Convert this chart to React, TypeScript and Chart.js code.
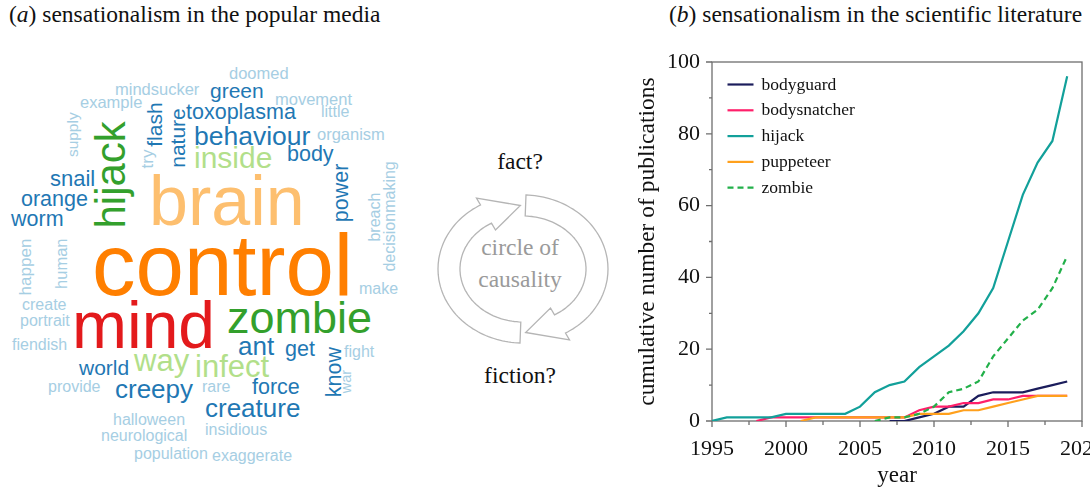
import React, { useEffect, useRef } from "react";
import { Chart, registerables } from "chart.js";

Chart.register(...registerables);

// ---------- data (panel b) ----------
const years = [1995, 1996, 1997, 1998, 1999, 2000, 2001, 2002, 2003, 2004, 2005, 2006, 2007, 2008, 2009, 2010, 2011, 2012, 2013, 2014, 2015, 2016, 2017, 2018, 2019];
const N = null;
const bodyguard = [N, N, N, N, N, N, N, N, N, N, N, N, 0, 0, 1, 2, 4, 4, 7, 8, 8, 8, 9, 10, 11];
const bodysnatcher = [N, N, N, 0, 1, 1, 1, 1, 1, 1, 1, 1, 1, 1, 3, 4, 4, 5, 5, 6, 6, 7, 7, 7, 7];
const hijack = [0, 1, 1, 1, 1, 2, 2, 2, 2, 2, 4, 8, 10, 11, 15, 18, 21, 25, 30, 37, 50, 63, 72, 78, 96];
const puppeteer = [N, N, N, N, N, N, 0, 1, 1, 1, 1, 1, 1, 1, 2, 2, 2, 3, 3, 4, 5, 6, 7, 7, 7];
const zombie = [N, N, N, N, N, N, N, N, N, N, N, 0, 1, 1, 2, 4, 8, 9, 11, 18, 23, 28, 31, 37, 46];

const seriesNames = ["bodyguard", "bodysnatcher", "hijack", "puppeteer", "zombie"];
const seriesValues = [bodyguard, bodysnatcher, hijack, puppeteer, zombie];
const seriesColors = ["#1b1d5c", "#ff1f6a", "#12a09a", "#ffa01c", "#22b04a"];
const seriesDashed = [false, false, false, false, true];

const xTickLabels = [1995, 2000, 2005, 2010, 2015, 2020];
const yTickLabels = [0, 20, 40, 60, 80, 100];

// ---------- word cloud (panel a) ----------
const C = {
  lb: "#a6cee3",
  b: "#1f78b4",
  lg: "#b2df8a",
  g: "#33a02c",
  r: "#e31a1c",
  lo: "#fdbf6f",
  o: "#ff7f00",
};
// [text, x, y, size, colour, vertical]  (horizontal: x = left, y = baseline; vertical: x = baseline, y = start)
const cloudWords: [string, number, number, number, string, boolean][] = [
  ["doomed", 229, 79, 16.5, C.lb, false],
  ["mindsucker", 115, 95, 16.5, C.lb, false],
  ["green", 210, 98, 21, C.b, false],
  ["movement", 275, 105, 16.5, C.lb, false],
  ["example", 80, 108, 16.5, C.lb, false],
  ["toxoplasma", 186, 120, 21.5, C.b, false],
  ["little", 321, 118, 16, C.lb, false],
  ["behaviour", 194, 145, 26.5, C.b, false],
  ["organism", 317, 140, 16.5, C.lb, false],
  ["inside", 194, 168, 30, C.lg, false],
  ["body", 287, 162, 21.5, C.b, false],
  ["snail", 50, 187, 22, C.b, false],
  ["orange", 21, 207, 21.5, C.b, false],
  ["worm", 11, 227, 21.5, C.b, false],
  ["brain", 149, 225, 70, C.lo, false],
  ["control", 92, 295, 87, C.o, false],
  ["make", 359, 295, 16, C.lb, false],
  ["create", 22, 311, 16, C.lb, false],
  ["portrait", 20, 327, 16, C.lb, false],
  ["fiendish", 12, 351, 16, C.lb, false],
  ["mind", 72, 348, 66, C.r, false],
  ["zombie", 227, 333, 45, C.g, false],
  ["ant", 238, 355, 26, C.b, false],
  ["get", 285, 357, 21.5, C.b, false],
  ["fight", 344, 358, 16, C.lb, false],
  ["world", 79, 375, 21, C.b, false],
  ["way", 134, 371, 31, C.lg, false],
  ["infect", 195, 377, 31, C.lg, false],
  ["provide", 48, 393, 16, C.lb, false],
  ["creepy", 115, 398, 26, C.b, false],
  ["rare", 202, 393, 16, C.lb, false],
  ["force", 252, 395, 21.5, C.b, false],
  ["creature", 205, 417, 26, C.b, false],
  ["halloween", 113, 426, 16, C.lb, false],
  ["neurological", 101, 442, 16, C.lb, false],
  ["insidious", 205, 436, 16, C.lb, false],
  ["population", 134, 460, 16, C.lb, false],
  ["exaggerate", 212, 462, 16, C.lb, false],
  // vertical words
  ["supply", 78, 157, 15.5, C.lb, true],
  ["hijack", 126, 229, 42, C.g, true],
  ["try", 153, 168, 17, C.lb, true],
  ["flash", 162, 147, 21, C.b, true],
  ["nature", 185, 168, 21, C.b, true],
  ["power", 349, 222, 21.5, C.b, true],
  ["breach", 381, 242, 16, C.lb, true],
  ["decisionmaking", 396, 272, 16, C.lb, true],
  ["know", 342, 397, 21.5, C.b, true],
  ["war", 351, 393, 14.5, C.lb, true],
  ["happen", 30.5, 295, 17, C.lb, true],
  ["human", 67, 289, 16.5, C.lb, true],
];

const SERIF = "'Liberation Serif', 'Times New Roman', serif";
const SANS = "'Liberation Sans', Arial, sans-serif";

function arrowPath(cx: number, cy: number, rxO: number, ryO: number, rxI: number, ryI: number, a0: number, aH: number, aT: number, over: number) {
  const pt = (rx: number, ry: number, a: number) => {
    const r = (a * Math.PI) / 180;
    return [cx + rx * Math.cos(r), cy + ry * Math.sin(r)];
  };
  const pts: number[][] = [];
  for (let a = a0; a < aH; a += 2) pts.push(pt(rxO, ryO, a));
  pts.push(pt(rxO, ryO, aH));
  pts.push(pt(rxO + over, ryO + over, aH));
  pts.push(pt((rxO + rxI) / 2, (ryO + ryI) / 2, aT));
  pts.push(pt(rxI - over, ryI - over, aH));
  for (let a = aH; a > a0; a -= 2) pts.push(pt(rxI, ryI, a));
  pts.push(pt(rxI, ryI, a0));
  return "M" + pts.map((p) => p[0].toFixed(1) + "," + p[1].toFixed(1)).join("L") + "Z";
}

const framePlugin = {
  id: "frame",
  beforeDatasetsDraw(chart: any) {
    const { ctx, chartArea: a, scales } = chart;
    ctx.save();
    ctx.strokeStyle = "#6e6e6e";
    ctx.lineWidth = 1.3;
    ctx.strokeRect(a.left, a.top, a.right - a.left, a.bottom - a.top);
    ctx.beginPath();
    scales.x.ticks.forEach((t: any) => {
      const px = scales.x.getPixelForValue(t.value);
      const major = Math.abs(t.value % 5) < 1e-6;
      ctx.moveTo(px, a.bottom);
      ctx.lineTo(px, a.bottom + (major ? 6 : 4));
    });
    scales.y.ticks.forEach((t: any) => {
      const py = scales.y.getPixelForValue(t.value);
      const major = t.value % 20 === 0;
      ctx.moveTo(a.left - (major ? 6 : 3), py);
      ctx.lineTo(a.left, py);
    });
    ctx.stroke();
    ctx.restore();
  },
  afterDraw(chart: any) {
    const { ctx, chartArea: a } = chart;
    ctx.save();
    chart.data.datasets.forEach((ds: any, i: number) => {
      const y = a.top + 22.5 + i * 25.8;
      ctx.strokeStyle = ds.borderColor;
      ctx.lineWidth = 2.2;
      ctx.setLineDash(ds.borderDash || []);
      ctx.beginPath();
      ctx.moveTo(a.left + 15.5, y);
      ctx.lineTo(a.left + 41.5, y);
      ctx.stroke();
      ctx.setLineDash([]);
      ctx.fillStyle = "#111";
      ctx.font = "17.5px " + SERIF;
      ctx.textBaseline = "middle";
      ctx.textAlign = "left";
      ctx.fillText(ds.label, a.left + 49.5, y + 0.5);
    });
    ctx.restore();
  },
};

function LineChart() {
  const ref = useRef<HTMLCanvasElement | null>(null);
  useEffect(() => {
    if (!ref.current) return;
    const datasets = seriesNames.map((name, i) => ({
      label: name,
      data: years
        .map((yr, j) => ({ x: yr, y: seriesValues[i][j] }))
        .filter((p) => p.y !== null),
      borderColor: seriesColors[i],
      backgroundColor: seriesColors[i],
      borderWidth: 2.2,
      borderDash: seriesDashed[i] ? [6, 4] : undefined,
      pointRadius: 0,
      tension: 0,
      fill: false,
      order: seriesNames.length - i,
    }));
    const chart = new Chart(ref.current, {
      type: "line",
      data: { datasets },
      plugins: [framePlugin],
      options: {
        animation: false,
        responsive: false,
        maintainAspectRatio: false,
        layout: { padding: { left: 0, right: 38, top: 62, bottom: 0 } },
        plugins: { legend: { display: false }, tooltip: { enabled: false }, title: { display: false } },
        scales: {
          x: {
            type: "linear",
            min: 1995,
            max: 2020,
            grid: { display: false, drawTicks: false },
            border: { display: false },
            ticks: {
              stepSize: 2.5,
              autoSkip: false,
              maxRotation: 0,
              padding: 15,
              color: "#111",
              font: { family: SERIF, size: 22 },
              callback: (v: any) => (xTickLabels.includes(Number(v)) ? String(v) : ""),
            },
            title: { display: true, text: "year", color: "#111", font: { family: SERIF, size: 23 }, padding: { top: 0, bottom: 0 } },
            afterFit: (s: any) => {
              s.height = 69;
            },
          },
          y: {
            min: 0,
            max: 100,
            grid: { display: false, drawTicks: false },
            border: { display: false },
            ticks: {
              stepSize: 10,
              autoSkip: false,
              padding: 12,
              color: "#111",
              font: { family: SERIF, size: 22 },
              callback: (v: any) => (yTickLabels.includes(Number(v)) ? String(v) : ""),
            },
            title: {
              display: true,
              text: "cumulative number of publications",
              color: "#111",
              font: { family: SERIF, size: 23.5 },
              padding: { top: 34, bottom: 0 },
            },
            afterFit: (s: any) => {
              s.width = 112;
            },
          },
        },
      } as any,
    });
    return () => chart.destroy();
  }, []);
  return <canvas ref={ref} width={520} height={490} style={{ display: "block", width: 520, height: 490 }} />;
}

export default function App() {
  const cx = 523,
    cy = 269;
  const titleStyle = (left: number): React.CSSProperties => ({
    position: "absolute",
    left,
    top: 3,
    fontFamily: SERIF,
    fontSize: 23.5,
    lineHeight: 1,
    color: "#111",
    whiteSpace: "nowrap",
  });
  const midText = (y: number, color: string): React.CSSProperties => ({
    position: "absolute",
    left: cx - 3 - 100,
    width: 200,
    textAlign: "center",
    top: y - 0.8375 * 23.5,
    fontFamily: SERIF,
    fontSize: 23.5,
    lineHeight: 1,
    color,
    whiteSpace: "nowrap",
  });
  return (
    <div style={{ position: "fixed", left: 0, top: 0, width: 1090, height: 490, overflow: "hidden", background: "#fff" }}>
      <div style={titleStyle(9)}>
        (<i>a</i>) sensationalism in the popular media
      </div>
      <div style={titleStyle(669)}>
        (<i>b</i>) sensationalism in the scientific literature
      </div>
      {cloudWords.map(([t, x, y, fs, col, vert], i) => (
        <span
          key={i}
          style={{
            position: "absolute",
            left: x,
            top: y - 0.8465 * fs,
            fontFamily: SANS,
            fontSize: fs,
            lineHeight: 1,
            color: col,
            whiteSpace: "nowrap",
            transformOrigin: `0px ${0.8465 * fs}px`,
            transform: vert ? "rotate(-90deg)" : undefined,
          }}
        >
          {t}
        </span>
      ))}
      <svg width={1090} height={490} style={{ position: "absolute", left: 0, top: 0 }}>
        <path d={arrowPath(cx, cy, 85, 74, 63, 53, -88, 60, 88, 8)} fill="#fff" stroke="#b5b5b5" strokeWidth={1.3} />
        <path d={arrowPath(cx, cy, 85, 74, 63, 53, 92, 240, 268, 8)} fill="#fff" stroke="#b5b5b5" strokeWidth={1.3} />
      </svg>
      <div style={midText(170, "#111")}>fact?</div>
      <div style={midText(256, "#9a9a9a")}>circle of</div>
      <div style={midText(288, "#9a9a9a")}>causality</div>
      <div style={midText(384, "#111")}>fiction?</div>
      <div style={{ position: "absolute", left: 600, top: 0, width: 520, height: 490 }}>
        <LineChart />
      </div>
    </div>
  );
}
